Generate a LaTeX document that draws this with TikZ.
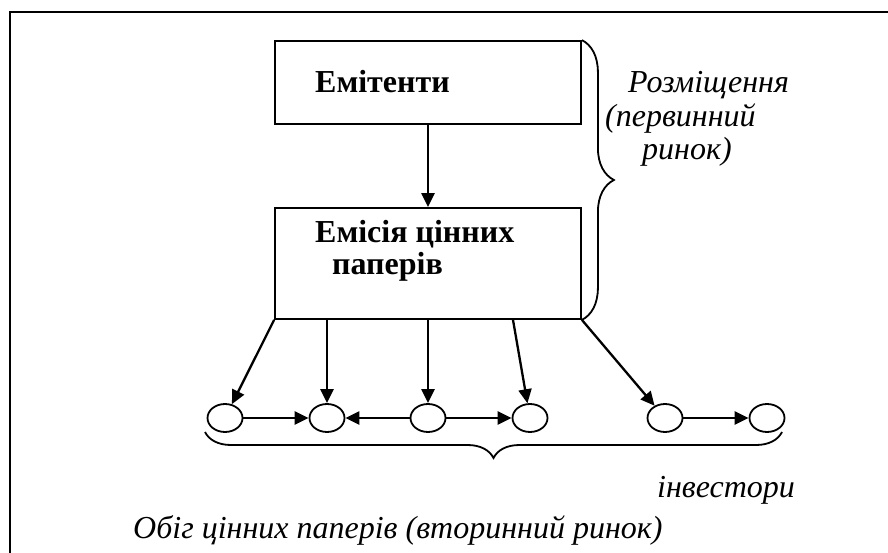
\documentclass[tikz,border=0pt]{standalone}
\usepackage{fontspec}
\setmainfont{Liberation Serif}
\usetikzlibrary{arrows.meta,decorations.pathreplacing,shapes.geometric}

\begin{document}
\begin{tikzpicture}[x=1pt,y=-1pt,
  box/.style={draw,line width=1.8pt,rectangle,inner sep=0pt,minimum width=306pt},
  agent/.style={draw,line width=1.8pt,ellipse,inner sep=0pt,minimum width=35pt,minimum height=28pt},
  flow/.style={line width=2.3pt,-{Triangle[length=14pt,width=13pt]}},
  boxtext/.style={font=\fontsize{32}{36}\selectfont\bfseries,inner sep=0pt,anchor=base west},
  note/.style={font=\fontsize{32}{36}\selectfont\itshape,inner sep=0pt,anchor=base west},
  curly/.style={line width=1.8pt,decorate}]

  \useasboundingbox (0,0) rectangle (888,553);

  % open frame: top and left sides
  \coordinate (fb) at (10,553);
  \coordinate (fc) at (10,12);
  \coordinate (fr) at (888,12);
  \draw[line width=2pt] (fb) -- (fc) -- (fr);

  % issuers and issue boxes
  \node[box,minimum height=83pt] (b1) at (428,82.5) {};
  \node[box,minimum height=111pt] (b2) at (428,263.5) {};
  \node[boxtext] (t1) at (315,93) {Емітенти};
  \node[boxtext] (t2) at (315,243) {Емісія цінних};
  \node[boxtext] (t3) at (332,274) {паперів};
  \draw[flow] (b1) -- (b2);

  % investors
  \node[agent] (e1) at (225,418) {};
  \node[agent] (e2) at (327,418) {};
  \node[agent] (e3) at (428,418) {};
  \node[agent] (e4) at (530,418) {};
  \node[agent] (e5) at (665,418) {};
  \node[agent] (e6) at (767,418) {};

  % placement of securities
  \draw[flow] (b2.south west) -- (e1);
  \draw[flow] (b2.south -| e2) -- (e2);
  \draw[flow] (b2.south) -- (e3);
  \draw[flow] ([xshift=85pt]b2.south) -- (e4);
  \draw[flow] (b2.south east) -- (e5);

  % circulation between investors
  \draw[flow] (e1) -- (e2);
  \draw[flow] (e3) -- (e2);
  \draw[flow] (e3) -- (e4);
  \draw[flow] (e5) -- (e6);

  % braces
  \draw[curly,decoration={brace,amplitude=32pt}] (b1.north east) -- (b2.south east);
  \coordinate (bl) at (205,432);
  \coordinate (br) at (782,432);
  \draw[curly,decoration={brace,amplitude=26pt}] (br) -- (bl);

  % labels
  \node[note] (n1) at (628,93) {Розміщення};
  \node[note] (n2) at (605,127) {(первинний};
  \node[note] (n3) at (642,160) {ринок)};
  \node[note] (n4) at (657,497) {інвестори};
  \node[note] (n5) at (133,538) {Обіг цінних паперів (вторинний ринок)};
\end{tikzpicture}
\end{document}
